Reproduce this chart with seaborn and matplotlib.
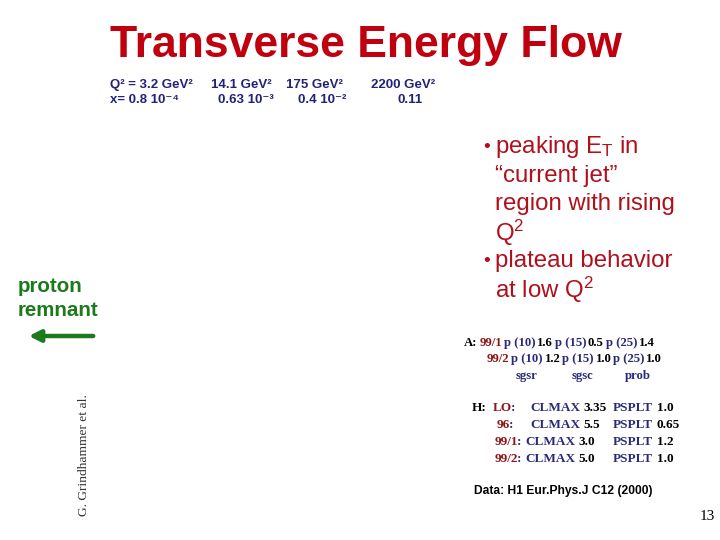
import matplotlib
matplotlib.use("Agg")
import matplotlib.pyplot as plt
import seaborn as sns

# slide texts / values
title = "Transverse Energy Flow"
q2_labels = ["Q² = 3.2 GeV²", "14.1 GeV²", "175 GeV²", "2200 GeV²"]
x_labels = ["x= 0.8 10⁻⁴", "0.63 10⁻³", "0.4 10⁻²", "0.11"]
bullets = [r"•peaking E$_\mathrm{T}$ in", "“current jet”", "region with rising",
           r"Q$^2$", "•plateau behavior", r"at low Q$^2$"]
a_runs = ["99/1", "99/2"]
a_pt = [10, 15, 25]
a_vals = [[1.6, 0.5, 1.4], [1.2, 1.0, 1.0]]
a_names = ["sgsr", "sgsc", "prob"]
h_runs = ["LO", "96", "99/1", "99/2"]
clmax = [3.35, 5.5, 3.0, 5.0]
psplt = [1.0, 0.65, 1.2, 1.0]
ref = "Data: H1 Eur.Phys.J C12 (2000)"
author = "G. Grindhammer et al."
page = "13"

sns.set_theme(style="white")
plt.rcParams['font.family'] = ['Liberation Sans', 'DejaVu Sans']
plt.rcParams['mathtext.fontset'] = 'custom'
plt.rcParams['mathtext.rm'] = 'Liberation Sans'
plt.rcParams['mathtext.it'] = 'Liberation Sans:italic'

RED = "#c0000f"
BRED = "#b0101c"
DRED = "#8e1515"
NAVY = "#2a2a78"
BLUE = "#22227a"
GREEN = "#1b7a1b"
SERIF = ['Liberation Serif', 'DejaVu Serif']

fig = plt.figure(figsize=(7.2, 5.4), dpi=100)
ax = fig.add_axes([0, 0, 1, 1])
ax.set_xlim(0, 720)
ax.set_ylim(540, 0)
ax.axis("off")


def chain(x, y, parts, fs, gap):
    # write coloured pieces one after another on one line
    t = ax.text(x, y, parts[0][0], color=parts[0][1], fontsize=fs, fontweight="bold",
                family=SERIF, va="center")
    for s, c in parts[1:]:
        t = ax.annotate(s, xy=(1, 0.5), xycoords=t, xytext=(gap, 0), textcoords="offset points",
                        va="center", color=c, fontsize=fs, fontweight="bold", family=SERIF)
    return t


ax.text(366, 46, title, color=RED, fontsize=32, fontweight="bold", ha="center", va="center")

q_x = [110, 211, 286, 371]
x_x = [110, 218, 298, 398]
for xx, lab in zip(q_x, q2_labels):
    ax.text(xx, 85, lab, color=BLUE, fontsize=9.5, fontweight="bold", va="center")
for xx, lab in zip(x_x, x_labels):
    ax.text(xx, 100, lab, color=BLUE, fontsize=9.5, fontweight="bold", va="center")

for i, line in enumerate(bullets):
    yy = 147 + i * 28.6
    if line.startswith("•"):
        ax.text(483, yy, "•", color=BRED, fontsize=14, va="center")
        line = line[1:]
    ax.text(495, yy, line, color=BRED, fontsize=17.3, va="center")

ax.text(18, 287, "proton", color=GREEN, fontsize=14.8, fontweight="bold", va="center")
ax.text(18, 310, "remnant", color=GREEN, fontsize=14.8, fontweight="bold", va="center")
ax.annotate("", xy=(26, 336), xytext=(96, 336),
            arrowprops=dict(arrowstyle="-|>", lw=3.2, color=GREEN, mutation_scale=17))

ax.text(84, 455, author, color="#333333", fontsize=9.7, family=SERIF,
        rotation=90, ha="center", va="center")

# generator settings A
fa = 9.2
for r, run in enumerate(a_runs):
    parts = [("A:", "black")] if r == 0 else []
    parts.append((run, DRED))
    for j, p in enumerate(a_pt):
        parts.append((f"p ({p})", NAVY))
        parts.append((str(a_vals[r][j]), "black"))
    chain([464, 487][r], [343, 359][r], parts, fa, 1.3)
for xx, name in zip([516, 572, 625], a_names):
    ax.text(xx, 376, name, color=NAVY, fontsize=fa, fontweight="bold", family=SERIF, va="center")

# generator settings H
fh = 9.5
ax.text(472, 408, "H:", color="black", fontsize=fh, fontweight="bold", family=SERIF, va="center")
run_hx = [493, 497, 495, 495]
cl_x = [530, 530, 525, 525]
for k, run in enumerate(h_runs):
    yy = 408 + k * 17
    chain(run_hx[k], yy, [(run, DRED), (":", NAVY)], fh, -1)
    chain(cl_x[k], yy, [("CLMAX", NAVY), (str(clmax[k]), "black")], fh, 2.5)
    chain(613, yy, [("PSPLT", NAVY), (str(psplt[k]), "black")], fh, 2.5)

ax.text(474, 491, ref, color="black", fontsize=8.7, fontweight="bold", va="center")
ax.text(700, 517, page, color="black", fontsize=11, family=SERIF, va="center")

fig.savefig("out.png", dpi=100)
